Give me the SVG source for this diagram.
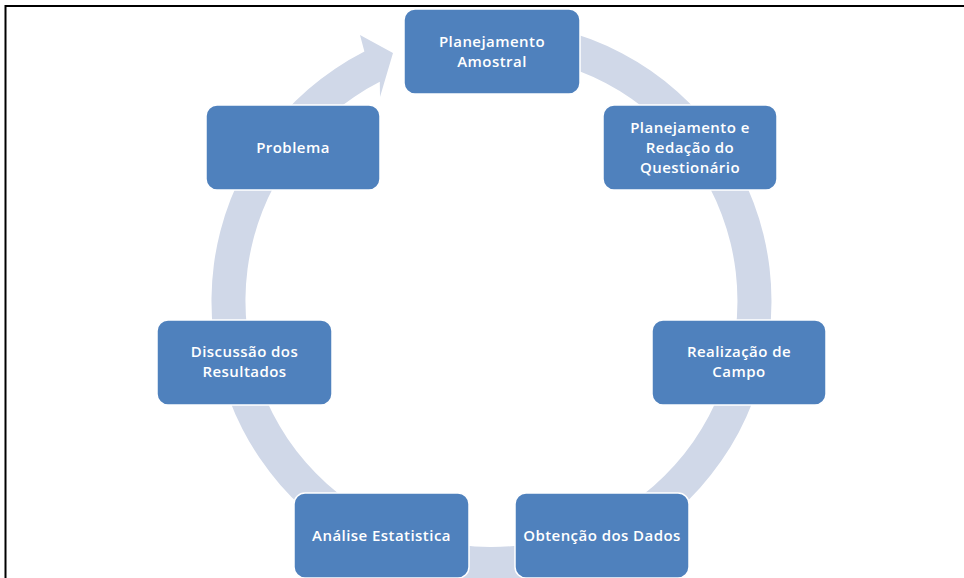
<svg xmlns="http://www.w3.org/2000/svg" width="964" height="578" viewBox="0 0 964 578">
<style>
.box{fill:#4F81BD;stroke:#FFFFFF;stroke-width:1.5}
.lbl{font-family:"Open Sans","Liberation Sans",sans-serif;font-weight:600;font-size:15px;letter-spacing:0.45px;fill:#FFFFFF;text-anchor:middle}
</style>
<rect width="964" height="578" fill="#FFFFFF"/>
<path d="M5.5,578 V6 H964" fill="none" stroke="#000000" stroke-width="2"/>
<g id="connectors">
<path d="M491.5,21 A280,280 0 1 1 364.4,51.5 L360,35 L393,53 L380,97 L379.8,81.8 A246,246 0 1 0 491.5,55 Z" fill="#D0D8E8"/>
</g>
<g id="n1"><rect class="box" x="404" y="9" width="176" height="85" rx="11"/><text class="lbl" x="492" y="47">Planejamento</text><text class="lbl" x="492" y="67">Amostral</text></g>
<g id="n2"><rect class="box" x="603" y="105" width="174" height="85" rx="11"/><text class="lbl" x="690" y="133">Planejamento e</text><text class="lbl" x="690" y="153">Redação do</text><text class="lbl" x="690" y="173">Questionário</text></g>
<g id="n3"><rect class="box" x="652" y="320" width="174" height="85" rx="11"/><text class="lbl" x="739" y="357">Realização de</text><text class="lbl" x="739" y="377">Campo</text></g>
<g id="n4"><rect class="box" x="515" y="493" width="174" height="85" rx="11"/><text class="lbl" x="602" y="541">Obtenção dos Dados</text></g>
<g id="n5"><rect class="box" x="294" y="493" width="175" height="85" rx="11"/><text class="lbl" x="381.5" y="541">Análise Estatistica</text></g>
<g id="n6"><rect class="box" x="157" y="320" width="175" height="85" rx="11"/><text class="lbl" x="244.5" y="357">Discussão dos</text><text class="lbl" x="244.5" y="377">Resultados</text></g>
<g id="n7"><rect class="box" x="206" y="105" width="174" height="85" rx="11"/><text class="lbl" x="293" y="153">Problema</text></g>
</svg>
